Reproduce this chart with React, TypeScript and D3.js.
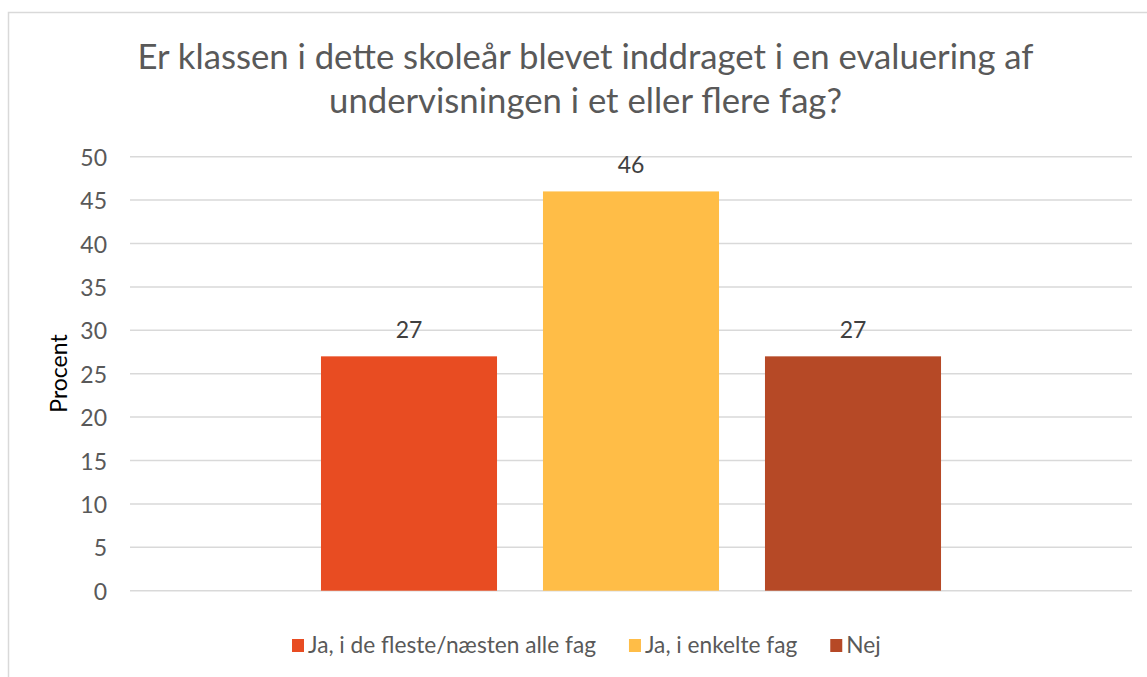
import React, { useEffect, useRef } from "react";
import * as d3 from "d3";

const titleLines = [
  "Er klassen i dette skoleår blevet inddraget i en evaluering af",
  "undervisningen i et eller flere fag?",
];
const seriesNames = ["Ja, i de fleste/næsten alle fag", "Ja, i enkelte fag", "Nej"];
const seriesValues = [27, 46, 27];
const seriesColors = ["#E84C22", "#FFBD47", "#B64926"];
const yTicks = [0, 5, 10, 15, 20, 25, 30, 35, 40, 45, 50];
const yAxisTitle = "Procent";

const FONT = "Lato, 'Open Sans', sans-serif";

export default function App() {
  const ref = useRef<SVGSVGElement | null>(null);

  useEffect(() => {
    const svg = d3.select(ref.current);
    svg.selectAll("*").remove();

    const plotLeft = 130, plotRight = 1132, plotTop = 156.7, plotBottom = 590.7;

    svg.append("rect")
      .attr("x", 8.5).attr("y", 12.5)
      .attr("width", 1160).attr("height", 680)
      .attr("fill", "#fff").attr("stroke", "#d9d9d9").attr("stroke-width", 1.5);

    const y = d3.scaleLinear().domain([0, 50]).range([plotBottom, plotTop]);
    const x = d3.scaleBand<string>()
      .domain(seriesNames)
      .range([298, 964])
      .paddingInner(0.207)
      .paddingOuter(0.1035);

    // gridlines
    svg.append("g").selectAll("line").data(yTicks).join("line")
      .attr("x1", plotLeft).attr("x2", plotRight)
      .attr("y1", (d) => y(d)).attr("y2", (d) => y(d))
      .attr("stroke", "#d9d9d9").attr("stroke-width", 1.5);

    // tick labels
    svg.append("g").selectAll("text").data(yTicks).join("text")
      .attr("x", 107).attr("y", (d) => y(d))
      .attr("text-anchor", "end").attr("dominant-baseline", "central")
      .attr("font-family", FONT).attr("font-size", 23).attr("fill", "#595959")
      .text((d) => String(d));

    // bars
    svg.append("g").selectAll("rect").data(seriesValues).join("rect")
      .attr("x", (_, i) => x(seriesNames[i]) as number)
      .attr("width", x.bandwidth())
      .attr("y", (d) => y(d))
      .attr("height", (d) => y(0) - y(d))
      .attr("fill", (_, i) => seriesColors[i]);

    // data labels
    svg.append("g").selectAll("text").data(seriesValues).join("text")
      .attr("x", (_, i) => (x(seriesNames[i]) as number) + x.bandwidth() / 2)
      .attr("y", (d) => y(d) - 18)
      .attr("text-anchor", "middle")
      .attr("font-family", FONT).attr("font-size", 23).attr("fill", "#404040")
      .text((d) => String(d));

    // title
    svg.append("g").selectAll("text").data(titleLines).join("text")
      .attr("x", 585.5).attr("y", (_, i) => 69 + i * 44)
      .attr("text-anchor", "middle")
      .attr("font-family", FONT).attr("font-size", 34.7).attr("fill", "#595959")
      .text((d) => d);

    // y axis title
    svg.append("text")
      .attr("transform", `translate(67, 373.5) rotate(-90)`)
      .attr("text-anchor", "middle")
      .attr("font-family", FONT).attr("font-size", 23).attr("fill", "#000")
      .text(yAxisTitle);

    // legend
    const lg = svg.append("g");
    let lx = 292;
    seriesNames.forEach((name, i) => {
      lg.append("rect").attr("x", lx).attr("y", 639).attr("width", 12).attr("height", 13)
        .attr("fill", seriesColors[i]);
      const t = lg.append("text")
        .attr("x", lx + 16).attr("y", 653)
        .attr("font-family", FONT).attr("font-size", 22.7).attr("fill", "#595959")
        .text(name);
      const w = (t.node() as SVGTextElement).getComputedTextLength();
      lx = lx + 16 + w + 33;
    });
  }, []);

  return (
    <svg ref={ref} width={1147} height={677} style={{ display: "block", position: "absolute", left: 0, top: 0 }} />
  );
}
